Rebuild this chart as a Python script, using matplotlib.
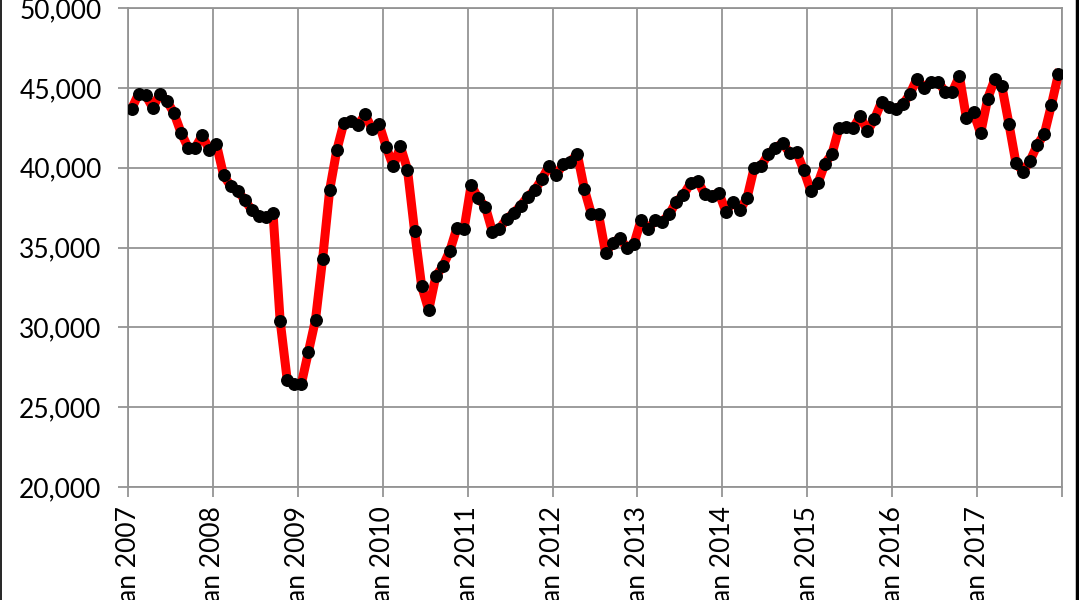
import numpy as np
import matplotlib.pyplot as plt
from matplotlib.lines import Line2D
from matplotlib.ticker import FuncFormatter

# monthly values, Jan 2007 .. Dec 2017
y2007 = [43670, 44625, 44540, 43750, 44625, 44170, 43420, 42190, 41250, 41250, 42020, 41100]
y2008 = [41460, 39540, 38850, 38540, 37980, 37330, 36980, 36880, 37130, 30420, 26710, 26420]
y2009 = [26460, 28480, 30480, 34270, 38600, 41080, 42790, 42920, 42650, 43330, 42420, 42710]
y2010 = [41290, 40080, 41330, 39870, 36040, 32580, 31080, 33190, 33830, 34810, 36250, 36170]
y2011 = [38920, 38080, 37560, 36000, 36170, 36790, 37150, 37625, 38190, 38600, 39290, 40100]
y2012 = [39540, 40210, 40375, 40850, 38650, 37080, 37080, 34670, 35270, 35580, 35000, 35210]
y2013 = [36710, 36130, 36730, 36625, 37080, 37875, 38290, 39020, 39190, 38330, 38230, 38440]
y2014 = [37250, 37875, 37350, 38125, 40000, 40125, 40850, 41250, 41520, 40940, 40960, 39850]
y2015 = [38540, 39020, 40250, 40870, 42500, 42540, 42500, 43230, 42290, 43040, 44125, 43810]
y2016 = [43670, 43960, 44600, 45580, 45020, 45375, 45375, 44750, 44750, 45730, 43080, 43460]
y2017 = [42150, 44330, 45540, 45100, 42750, 40270, 39750, 40440, 41420, 42100, 43920, 45875]

years = [2007, 2008, 2009, 2010, 2011, 2012, 2013, 2014, 2015, 2016, 2017]
tick_labels = ["Jan %d" % y for y in years] + [""]
yticks = [20000, 25000, 30000, 35000, 40000, 45000, 50000]

values = y2007 + y2008 + y2009 + y2010 + y2011 + y2012 + y2013 + y2014 + y2015 + y2016 + y2017
months = np.arange(len(values)) + 0.5   # points sit mid-month

plt.rcParams['font.family'] = ['Lato', 'DejaVu Sans']

fig = plt.figure(figsize=(10.79, 6), dpi=100)
ax = fig.add_axes([128/1079, 113/600, 934/1079, 479/600])

ax.plot(months, values, color="red", lw=6.5, zorder=3, solid_joinstyle="round")
ax.plot(months, values, "o", color="black", ms=8.3, zorder=4)

ax.set_xlim(0, 132)
ax.set_ylim(20000, 50000)
ax.set_xticks(np.arange(0, 133, 12))
ax.set_xticklabels(tick_labels, rotation=90, va="top", ha="center")
ax.set_yticks(yticks)
ax.yaxis.set_major_formatter(FuncFormatter(lambda v, p: "{:,.0f}".format(v)))

gridc = "#949494"
ax.grid(True, color=gridc, lw=1.3)
ax.set_axisbelow(True)
for s in ax.spines.values():
    s.set_color(gridc)
    s.set_linewidth(1.3)
ax.tick_params(axis="y", length=7, width=1.3, color=gridc, pad=12, labelsize=19)
ax.tick_params(axis="x", length=7, width=1.3, color=gridc, pad=7, labelsize=19)

# frame edges of the original screenshot
fig.add_artist(Line2D([0.0008, 0.0008], [0, 1], color="black", lw=1.2, transform=fig.transFigure))
fig.add_artist(Line2D([0.9985, 0.9985], [0, 1], color="black", lw=2.5, transform=fig.transFigure))

fig.savefig("out.png", dpi=100)
